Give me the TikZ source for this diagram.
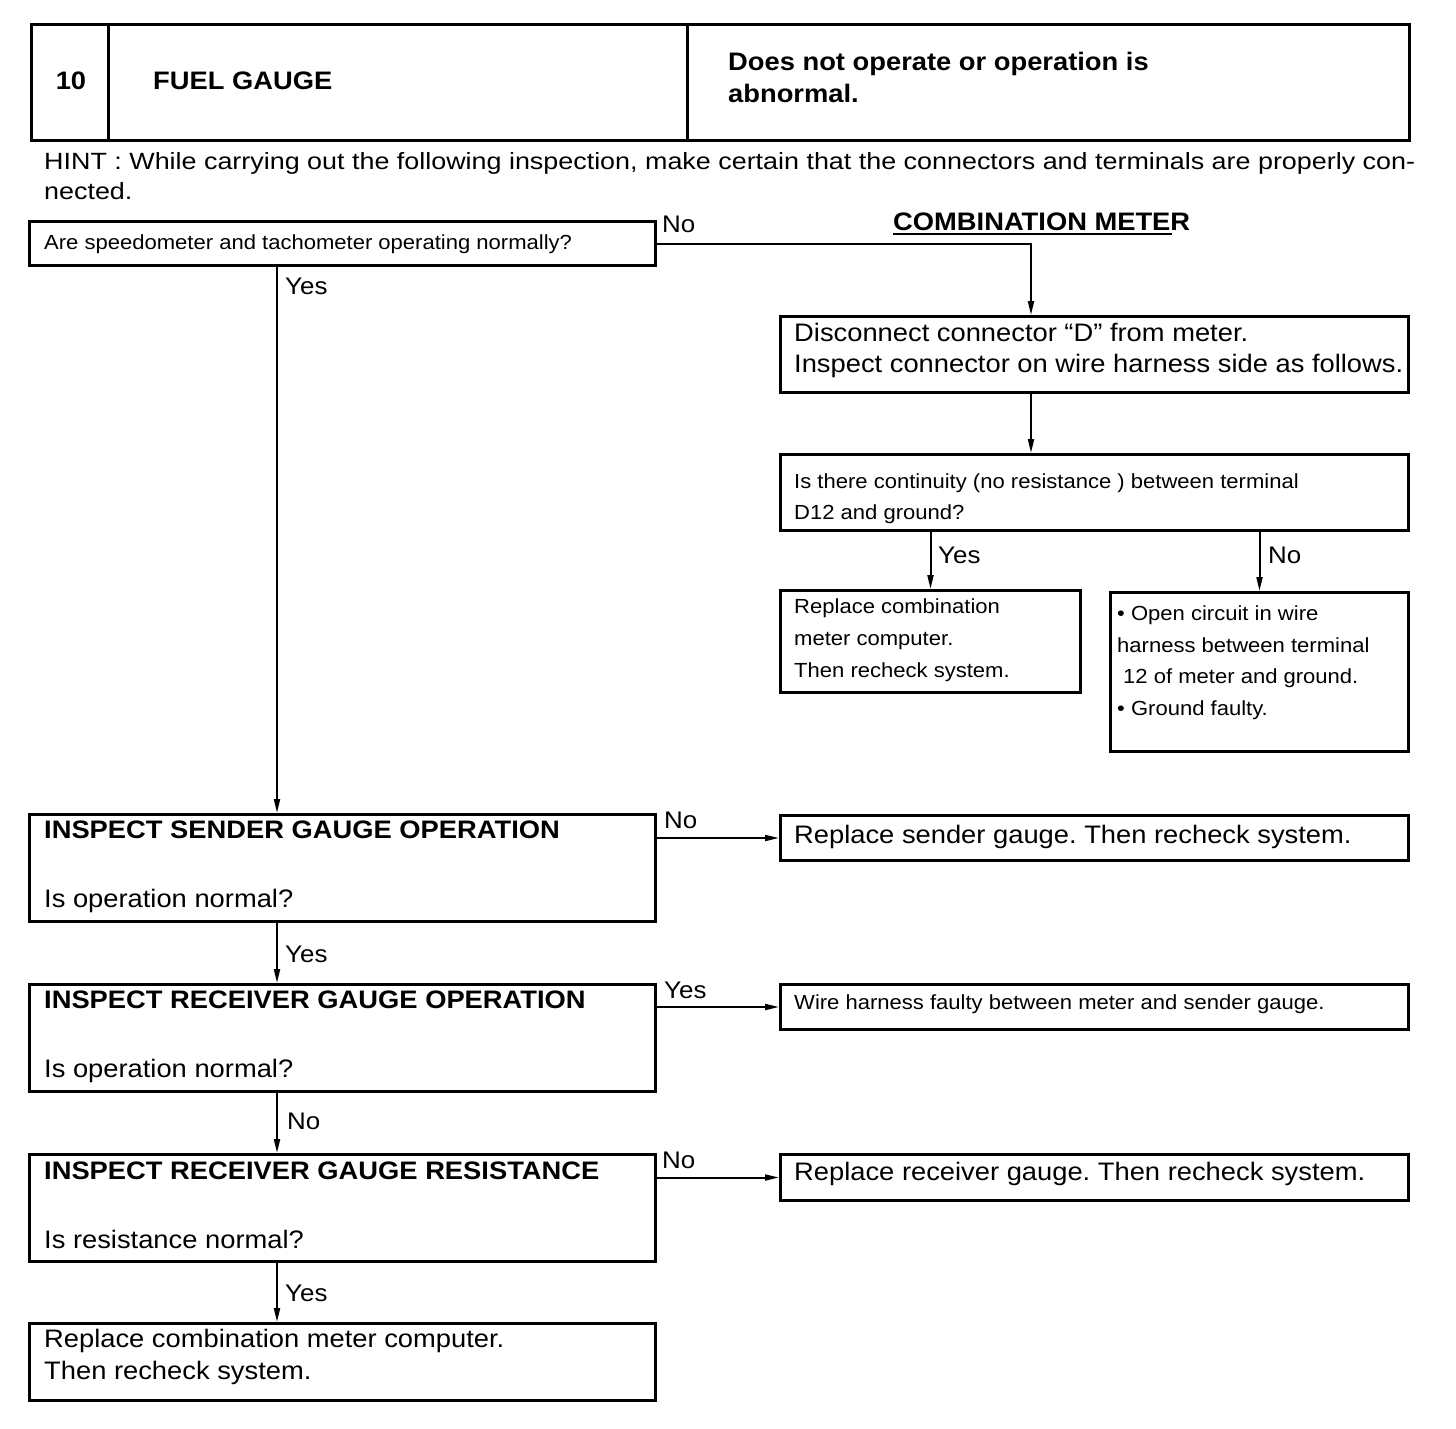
\documentclass[tikz,border=0pt]{standalone}
\usepackage{graphicx}
\usepackage{fontspec}
\setmainfont{Liberation Sans}[FakeStretch=1.08]
\usetikzlibrary{arrows.meta}
\newcommand\fbig{\fontsize{25.3}{31}\selectfont}
\newcommand\fsmall{\fontsize{20.4}{31}\selectfont}
\newcommand\flab{\fontsize{24}{28}\selectfont}
\newcommand\fhint{\fontsize{23.5}{28}\selectfont}
\newcommand\mkbox[5]{\node[box, minimum width={(#4-#2)*1pt}, minimum height={(#5-#3)*1pt}] (#1) at (#2,#3) {};}
\newlength\hintw
\newcommand\hinttext{HINT : While carrying out the following inspection, make certain that the connectors and terminals are properly con-}
\frenchspacing
\begin{document}
\settowidth{\hintw}{\fhint\hinttext}%
\pgfmathsetmacro\hsx{1371/\hintw}%
\begin{tikzpicture}[x=1pt,y=-1pt,
  box/.style={draw, line width=3pt, inner sep=0pt, anchor=north west},
  txt/.style={inner sep=0pt, anchor=base west, font=\fbig},
  sm/.style={txt, font=\fsmall},
  bd/.style={txt, font=\fbig\bfseries},
  lab/.style={txt, font=\flab},
  conn/.style={line width=2pt, -{Triangle[length=14pt,width=6pt]}}]
\useasboundingbox[fill=white] (0,0) rectangle (1456,1428);
% header
\mkbox{hc1}{30}{23}{107}{139}
\mkbox{hc2}{107}{23}{686}{139}
\mkbox{hc3}{686}{23}{1408}{139}
\node[bd, anchor=base] (h10) at (71,89) {10};
\node[bd] (hfuel) at (153,89) {FUEL GAUGE};
\node[bd] (hdoes1) at (728,70) {Does not operate or operation is};
\node[bd] (hdoes2) at (728,102) {abnormal.};
\node[txt, font=\fhint] (hint1) at (44,169) {\scalebox{\hsx}[1]{\hinttext}};
\node[txt, font=\fhint] (hint2) at (44,199) {\scalebox{\hsx}[1]{nected.}};
% boxes
\mkbox{q1}{28}{220}{654}{264}
\mkbox{dbox}{779}{315}{1407}{391}
\mkbox{cbox}{779}{453}{1407}{529}
\mkbox{r1box}{779}{589}{1079}{691}
\mkbox{r2box}{1109}{591}{1407}{750}
\mkbox{sbox}{28}{813}{654}{920}
\mkbox{rsbox}{779}{814}{1407}{859}
\mkbox{rgbox}{28}{983}{654}{1090}
\mkbox{wbox}{779}{983}{1407}{1028}
\mkbox{rrbox}{28}{1153}{654}{1260}
\mkbox{rrgbox}{779}{1153}{1407}{1199}
\mkbox{fin}{28}{1322}{654}{1399}
% texts
\node[bd] (cm) at (893,230) {COMBINATION METER};
\draw[line width=2pt] (cm.base west) ++(0,4) -- ++(279,0);
\node[sm] (q1t) at (44,249) {Are speedometer and tachometer operating normally?};
\node[lab] (lno1) at (662,232) {No};
\node[lab] (lyes1) at (285,294) {Yes};
\node[txt] (d1) at (794,341) {Disconnect connector “D” from meter.};
\node[txt] (d2) at (794,372) {Inspect connector on wire harness side as follows.};
\node[sm] (c1) at (794,488) {Is there continuity (no resistance ) between terminal};
\node[sm] (c2) at (794,519) {D12 and ground?};
\node[lab] (lyes2) at (938,563) {Yes};
\node[lab] (lno2) at (1268,563) {No};
\node[sm] (r1a) at (794,613) {Replace combination};
\node[sm] (r1b) at (794,645) {meter computer.};
\node[sm] (r1c) at (794,677) {Then recheck system.};
\node[sm] (r2a) at (1117,620) {\textbullet\ Open circuit in wire};
\node[sm] (r2b) at (1117,652) {harness between terminal};
\node[sm] (r2c) at (1123,683) {12 of meter and ground.};
\node[sm] (r2d) at (1117,715) {\textbullet\ Ground faulty.};
\node[bd] (s1) at (44,838) {INSPECT SENDER GAUGE OPERATION};
\node[txt] (s2) at (44,907) {Is operation normal?};
\node[lab] (lno3) at (664,828) {No};
\node[txt] (rst) at (794,843) {Replace sender gauge. Then recheck system.};
\node[lab] (lyes3) at (285,962) {Yes};
\node[bd] (g1) at (44,1008) {INSPECT RECEIVER GAUGE OPERATION};
\node[txt] (g2) at (44,1077) {Is operation normal?};
\node[lab] (lyes4) at (664,998) {Yes};
\node[sm] (wt) at (794,1009) {Wire harness faulty between meter and sender gauge.};
\node[lab] (lno4) at (287,1129) {No};
\node[bd] (rr1) at (44,1179) {INSPECT RECEIVER GAUGE RESISTANCE};
\node[txt] (rr2) at (44,1248) {Is resistance normal?};
\node[lab] (lno5) at (662,1168) {No};
\node[txt] (rrgt) at (794,1180) {Replace receiver gauge. Then recheck system.};
\node[lab] (lyes5) at (285,1301) {Yes};
\node[txt] (f1) at (44,1347) {Replace combination meter computer.};
\node[txt] (f2) at (44,1379) {Then recheck system.};
% connectors
\coordinate (spine) at (277,0);
\coordinate (dline) at (1031,0);
\draw[conn] (q1.east) -| (dbox.north -| dline);
\draw[conn] (dbox.south -| dline) -- (cbox.north -| dline);
\draw[conn] (cbox.south -| r1box.north) -- (r1box.north);
\draw[conn] (cbox.south -| r2box.north) -- (r2box.north);
\draw[conn] (q1.south -| spine) -- (sbox.north -| spine);
\draw[conn] (rsbox.west -| sbox.east) -- (rsbox.west);
\draw[conn] (sbox.south -| spine) -- (rgbox.north -| spine);
\draw[conn] (wbox.west -| rgbox.east) -- (wbox.west);
\draw[conn] (rgbox.south -| spine) -- (rrbox.north -| spine);
\draw[conn] (rrgbox.west -| rrbox.east) -- (rrgbox.west);
\draw[conn] (rrbox.south -| spine) -- (fin.north -| spine);
\end{tikzpicture}
\end{document}
